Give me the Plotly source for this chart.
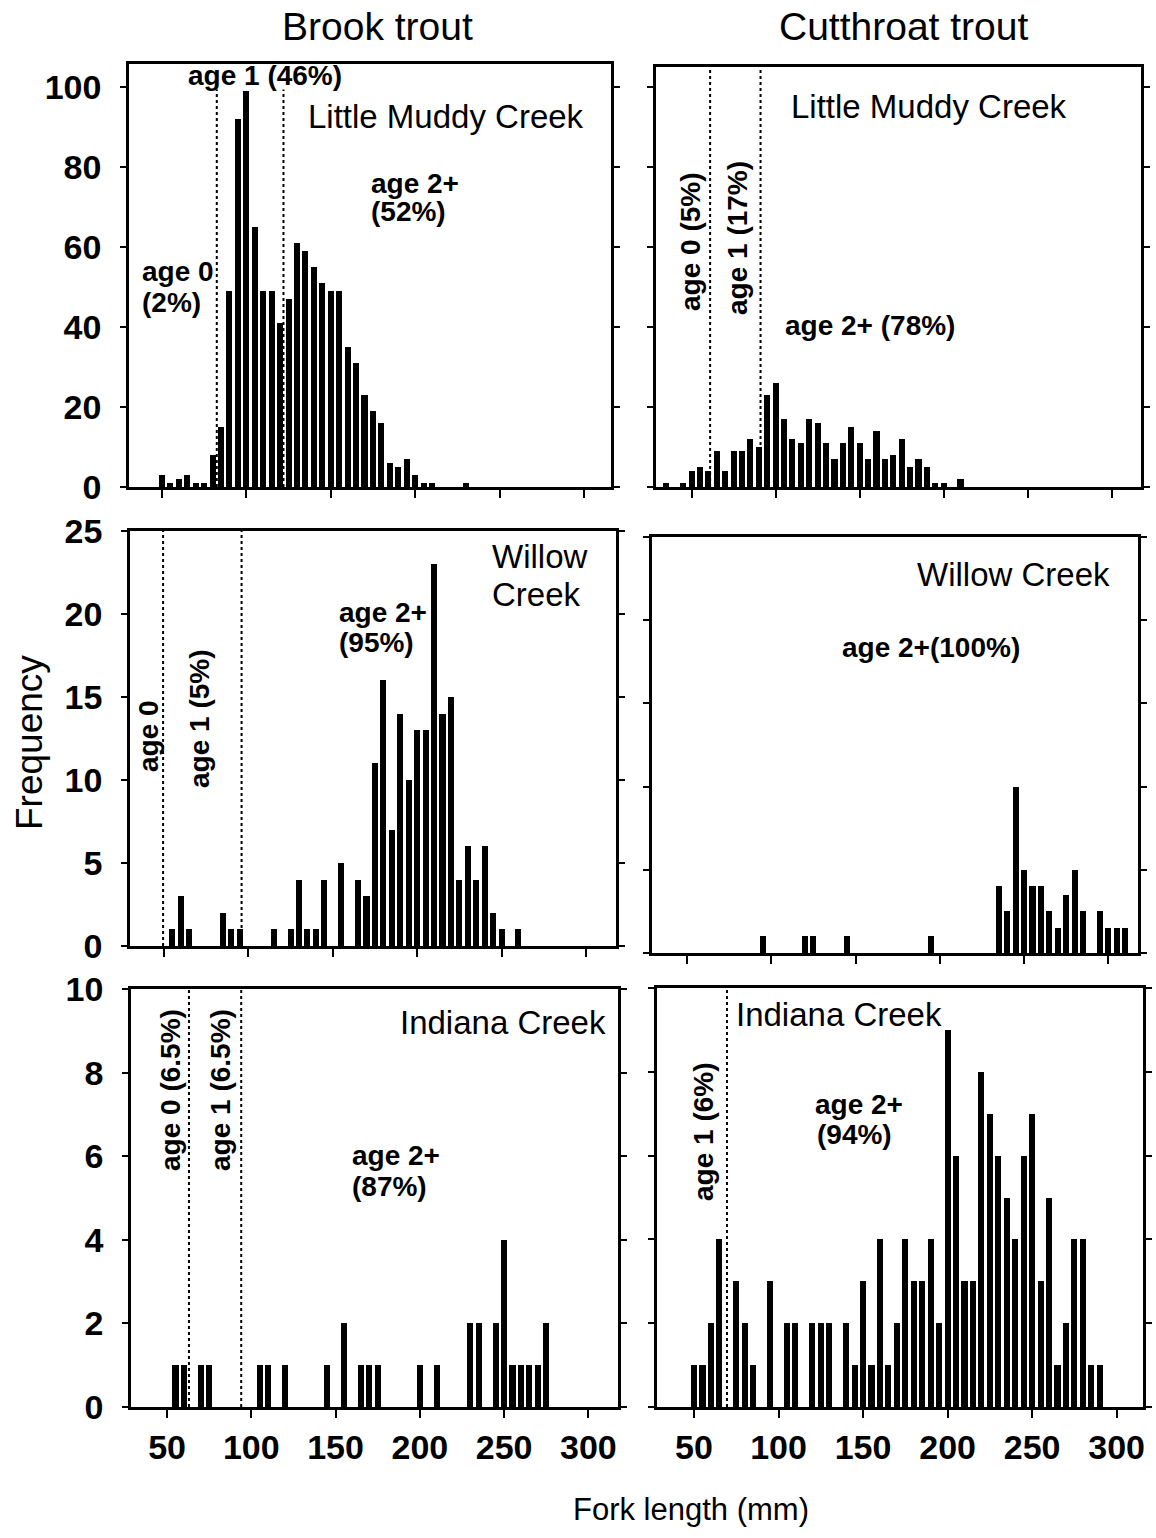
import plotly.graph_objects as go

# ---------------- data ----------------
xticks = [50, 100, 150, 200, 250, 300]

# Brook trout - Little Muddy Creek
bt_lmc_len = [50, 55, 60, 65, 70, 75, 80, 85, 90, 95, 100, 105, 110, 115, 120, 125, 130, 135, 140,
              145, 150, 155, 160, 165, 170, 175, 180, 185, 190, 195, 200, 205, 210, 230]
bt_lmc_freq = [3, 1, 2, 3, 1, 1, 8, 15, 49, 92, 99, 65, 49, 49, 41, 47, 61, 59, 55,
               51, 49, 49, 35, 31, 23, 19, 16, 6, 5, 7, 3, 1, 1, 1]
bt_lmc_cuts = [82.5, 122]

# Cutthroat trout - Little Muddy Creek
ct_lmc_len = [35, 45, 50, 55, 60, 65, 70, 75, 80, 85, 90, 95, 100, 105, 110, 115, 120, 125, 130,
              135, 140, 145, 150, 155, 160, 165, 170, 175, 180, 185, 190, 195, 200, 210]
ct_lmc_freq = [1, 1, 4, 5, 4, 9, 4, 9, 9, 12, 10, 23, 26, 17, 12, 11, 17, 16, 11,
               7, 11, 15, 11, 7, 14, 7, 8, 12, 5, 7, 5, 1, 1, 2]
ct_lmc_cuts = [61, 91]

# Brook trout - Willow Creek
bt_wc_len = [55, 60, 65, 85, 90, 95, 115, 125, 130, 135, 140, 145, 155, 165, 170, 175, 180, 185,
             190, 195, 200, 205, 210, 215, 220, 225, 230, 235, 240, 245, 250, 260]
bt_wc_freq = [1, 3, 1, 2, 1, 1, 1, 1, 4, 1, 1, 4, 5, 4, 3, 11, 16, 7,
              14, 10, 13, 13, 23, 14, 15, 4, 6, 4, 6, 2, 1, 1]
bt_wc_cuts = [49.5, 96]

# Cutthroat trout - Willow Creek
ct_wc_len = [95, 120, 125, 145, 195, 235, 240, 245, 250, 255, 260, 265, 270, 275, 280, 285,
             295, 300, 305, 310]
ct_wc_freq = [1, 1, 1, 1, 1, 4, 2.5, 10, 5, 4, 4, 2.5, 1.5, 3.5, 5, 2.5,
              2.5, 1.5, 1.5, 1.5]
ct_wc_cuts = []

# Brook trout - Indiana Creek
bt_ic_len = [55, 60, 70, 75, 105, 110, 120, 145, 155, 165, 170, 175, 200, 210, 230, 235, 245,
             250, 255, 260, 265, 270, 275]
bt_ic_freq = [1, 1, 1, 1, 1, 1, 1, 1, 2, 1, 1, 1, 1, 1, 2, 2, 2,
              4, 1, 1, 1, 1, 2]
bt_ic_cuts = [63, 94]

# Cutthroat trout - Indiana Creek
ct_ic_len = [50, 55, 60, 65, 75, 80, 85, 95, 105, 110, 120, 125, 130, 140, 145, 150, 155, 160,
             165, 170, 175, 180, 185, 190, 195, 200, 205, 210, 215, 220, 225, 230, 235, 240,
             245, 250, 255, 260, 265, 270, 275, 280, 285, 290]
ct_ic_freq = [1, 1, 2, 4, 3, 2, 1, 3, 2, 2, 2, 2, 2, 2, 1, 3, 1, 4,
              1, 2, 4, 3, 3, 4, 2, 9, 6, 3, 3, 8, 7, 6, 5, 4,
              6, 7, 3, 5, 1, 2, 4, 4, 1, 1]
ct_ic_cuts = [69.5]

# ---------------- layout helpers ----------------
W, H = 1156, 1538
FONT = "Liberation Sans, Arial, Helvetica, sans-serif"


def fx(px):
    return px / W


def fy(py):
    return 1 - py / H


panels = [
    dict(len=bt_lmc_len, freq=bt_lmc_freq, cuts=bt_lmc_cuts, frame=(129, 611, 64, 487),
         xr=[30.5, 316], yr=[0, 105.75], yt=[0, 20, 40, 60, 80, 100], ylab=True, xlab=False, cut_top=0.94),
    dict(len=ct_lmc_len, freq=ct_lmc_freq, cuts=ct_lmc_cuts, frame=(656, 1141, 67, 487),
         xr=[28.8, 317.4], yr=[0, 105], yt=[0, 20, 40, 60, 80, 100], ylab=False, xlab=False, cut_top=1),
    dict(len=bt_wc_len, freq=bt_wc_freq, cuts=bt_wc_cuts, frame=(130, 616, 531, 946),
         xr=[29.9, 317.8], yr=[0, 25], yt=[0, 5, 10, 15, 20, 25], ylab=True, xlab=False, cut_top=1),
    dict(len=ct_wc_len, freq=ct_wc_freq, cuts=ct_wc_cuts, frame=(652, 1138, 537, 953),
         xr=[29.2, 317.6], yr=[0, 25], yt=[0, 5, 10, 15, 20, 25], ylab=False, xlab=False, cut_top=1),
    dict(len=bt_ic_len, freq=bt_ic_freq, cuts=bt_ic_cuts, frame=(131, 618, 989, 1407),
         xr=[28.6, 317.6], yr=[0, 10], yt=[0, 2, 4, 6, 8, 10], ylab=True, xlab=True, cut_top=1),
    dict(len=ct_ic_len, freq=ct_ic_freq, cuts=ct_ic_cuts, frame=(657, 1143, 988, 1407),
         xr=[28.1, 315.6], yr=[0, 10], yt=[0, 2, 4, 6, 8, 10], ylab=False, xlab=True, cut_top=1),
]

fig = go.Figure()
layout = {}
shapes = []
tickfont = dict(family=FONT, size=34, color="black", weight="bold")

for i, p in enumerate(panels):
    s = "" if i == 0 else str(i + 1)
    l, r, t, b = p["frame"]
    fig.add_trace(go.Bar(x=p["len"], y=p["freq"], width=3.6,
                         marker=dict(color="black", line=dict(width=0)),
                         xaxis="x" + s, yaxis="y" + s, showlegend=False))
    layout["xaxis" + s] = dict(domain=[fx(l), fx(r)], range=p["xr"], anchor="y" + s,
                               tickvals=xticks, showticklabels=p["xlab"], ticks="outside",
                               ticklen=8, tickwidth=2, tickcolor="black",
                               showline=True, linewidth=2.5, linecolor="black", mirror=True,
                               showgrid=False, zeroline=False, tickfont=tickfont,
                               ticklabelstandoff=0, automargin=False)
    layout["yaxis" + s] = dict(domain=[fy(b), fy(t)], range=p["yr"], anchor="x" + s,
                               tickvals=p["yt"], showticklabels=p["ylab"], ticks="outside",
                               ticklen=6, tickwidth=2, tickcolor="black",
                               showline=True, linewidth=2.5, linecolor="black", mirror="ticks",
                               showgrid=False, zeroline=False, tickfont=tickfont,
                               ticklabelstandoff=12, automargin=False)
    for c in p["cuts"]:
        shapes.append(dict(type="line", xref="x" + s, yref="y" + s + " domain",
                           x0=c, x1=c, y0=0, y1=p["cut_top"], layer="below",
                           line=dict(color="black", width=2, dash="dot")))

anns = []


def txt(text, x, y, size=28, bold=True, xanchor="center", angle=0):
    anns.append(dict(text=text, x=fx(x), y=fy(y), xref="paper", yref="paper",
                     xanchor=xanchor, yanchor="middle", showarrow=False, textangle=angle,
                     font=dict(family=FONT, size=size, color="black",
                               weight="bold" if bold else "normal")))


# column headings and axis titles
txt("Brook trout", 377, 27, size=39, bold=False)
txt("Cutthroat trout", 903, 27, size=39, bold=False)
txt("Frequency", 30, 743, size=37, bold=False, angle=-90)
txt("Fork length (mm)", 691, 1509, size=31, bold=False)

# panel labels
txt("Little Muddy Creek", 446, 117, size=33, bold=False)
txt("Little Muddy Creek", 929, 106, size=33, bold=False)
txt("Willow", 490, 556, size=33, bold=False, xanchor="left")
txt("Creek", 490, 594, size=33, bold=False, xanchor="left")
txt("Willow Creek", 1013, 574, size=33, bold=False)
txt("Indiana Creek", 503, 1022, size=33, bold=False)
txt("Indiana Creek", 839, 1015, size=33, bold=False)

# age annotations
txt("age 1 (46%)", 265, 75)
txt("age 2+", 369, 183, xanchor="left")
txt("(52%)", 369, 212, xanchor="left")
txt("age 0", 140, 271, xanchor="left")
txt("(2%)", 140, 302, xanchor="left")

txt("age 0 (5%)", 690, 242, angle=-90)
txt("age 1 (17%)", 737, 238, angle=-90)
txt("age 2+ (78%)", 870, 325)

txt("age 2+", 337, 612, xanchor="left")
txt("(95%)", 337, 643, xanchor="left")
txt("age 0", 148, 736, angle=-90)
txt("age 1 (5%)", 200, 718, angle=-90)

txt("age 2+(100%)", 840, 648, xanchor="left")

txt("age 0 (6.5%)", 170, 1090, angle=-90)
txt("age 1 (6.5%)", 220, 1090, angle=-90)
txt("age 2+", 350, 1155, xanchor="left")
txt("(87%)", 350, 1186, xanchor="left")

txt("age 1 (6%)", 703, 1132, angle=-90)
txt("age 2+", 813, 1104, xanchor="left")
txt("(94%)", 815, 1134, xanchor="left")

fig.update_layout(width=W, height=H,
                  margin=dict(l=0, r=0, t=0, b=0, pad=0, autoexpand=False),
                  paper_bgcolor="white", plot_bgcolor="white", bargap=0,
                  shapes=shapes, annotations=anns, **layout)

fig.write_html("out.html")
